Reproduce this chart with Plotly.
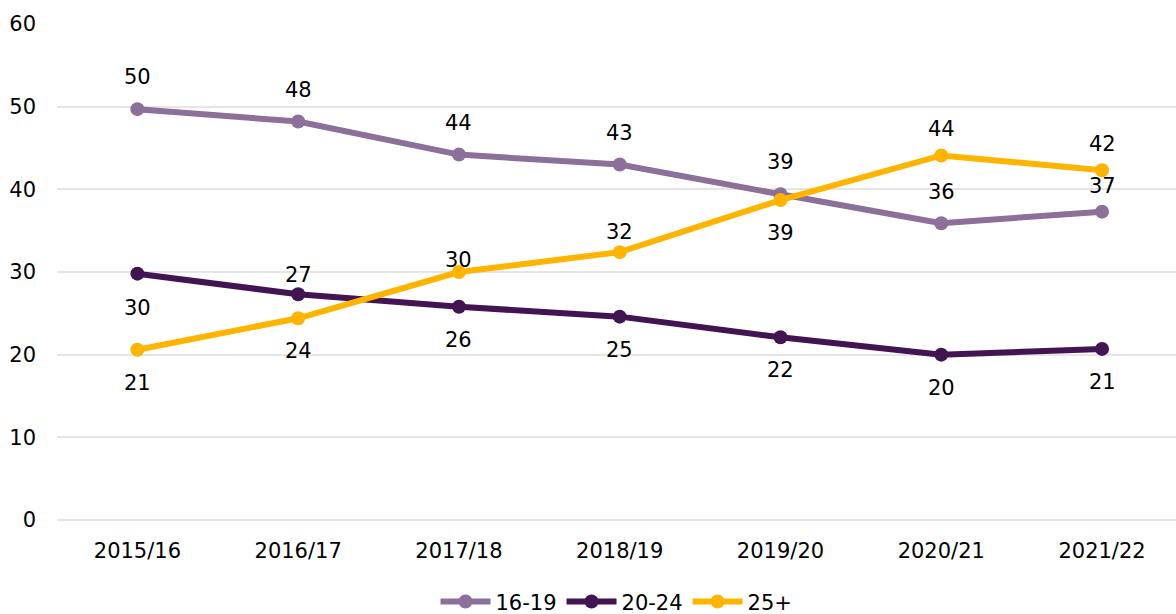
import plotly.graph_objects as go

categories = ["2015/16", "2016/17", "2017/18", "2018/19", "2019/20", "2020/21", "2021/22"]
s_16_19 = [49.7, 48.2, 44.2, 43.0, 39.4, 35.9, 37.3]
s_20_24 = [29.8, 27.3, 25.8, 24.6, 22.1, 20.0, 20.7]
s_25p = [20.6, 24.4, 30.0, 32.4, 38.7, 44.1, 42.3]
y_ticks = [0, 10, 20, 30, 40, 50, 60]

series = [
    ("16-19", s_16_19, "#8C7099"),
    ("20-24", s_20_24, "#421452"),
    ("25+", s_25p, "#FFB500"),
]
# label offsets in px (positive = above point)
label_shift = {
    "16-19": [32, 32, 32, 32, 32, 31, 26],
    "20-24": [-34, 19, -33, -33, -33, -33, -33],
    "25+": [-33, -33, 12, 20, -33, 26, 26],
}

FONT = "DejaVu Sans"
FS = 21
fig = go.Figure()
annotations = []
for name, vals, col in series:
    fig.add_trace(go.Scatter(
        x=categories, y=vals, name=name, mode="lines+markers",
        line=dict(color=col, width=6), marker=dict(color=col, size=14),
    ))
    for c, v, s in zip(categories, vals, label_shift[name]):
        annotations.append(dict(x=c, y=v, text=str(int(round(v))), showarrow=False,
                                yshift=s, font=dict(family=FONT, size=FS, color="#000000")))

fig.update_layout(
    width=1176, height=614,
    margin=dict(l=57, r=0, t=24, b=94, autoexpand=False),
    paper_bgcolor="white", plot_bgcolor="white",
    font=dict(family=FONT, size=FS, color="#000000"),
    annotations=annotations,
    showlegend=True,
    legend=dict(orientation="h", x=0.5, xanchor="center", y=-0.165, yanchor="middle",
                font=dict(family=FONT, size=FS), itemwidth=50, tracegroupgap=0),
    xaxis=dict(type="category", range=[-0.5, 6.46], showgrid=False, showline=False,
               ticks="", ticklabelstandoff=16, tickfont=dict(size=FS)),
    yaxis=dict(range=[0, 60], tickvals=y_ticks, showgrid=True, gridcolor="#E6E6E6", gridwidth=2,
               zeroline=True, zerolinecolor="#E6E6E6", zerolinewidth=2,
               showline=False, ticks="", ticklabelstandoff=20,
               tickfont=dict(size=FS)),
)

fig.write_html("out.html")
